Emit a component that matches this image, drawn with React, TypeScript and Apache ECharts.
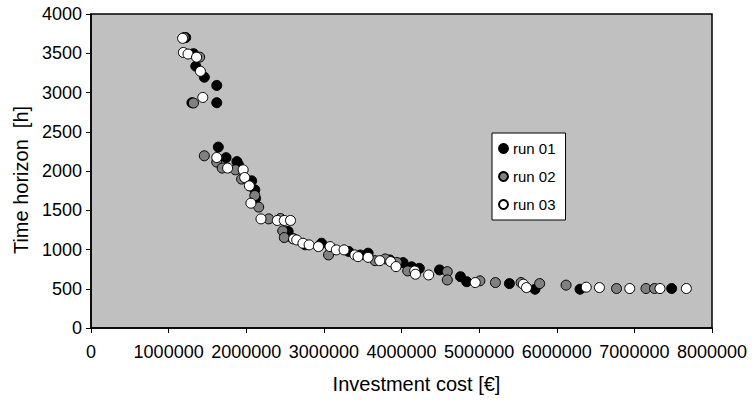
import React, { useEffect, useRef } from "react";
import * as echarts from "echarts";

const xTicks = [0, 1000000, 2000000, 3000000, 4000000, 5000000, 6000000, 7000000, 8000000];
const yTicks = [0, 500, 1000, 1500, 2000, 2500, 3000, 3500, 4000];

const seriesNames = ["run 01", "run 02", "run 03"];

const run01: [number, number][] = [
  [1220000, 3700], [1320000, 3495], [1350000, 3335], [1460000, 3195], [1620000, 3090],
  [1300000, 2870], [1620000, 2870], [1640000, 2305], [1740000, 2170], [1880000, 2120],
  [1900000, 2080], [2070000, 1875], [2110000, 1760], [2120000, 1650], [2540000, 1230],
  [2600000, 1140], [2760000, 1060], [2970000, 1080], [3320000, 975], [3470000, 930],
  [3570000, 953], [3850000, 867], [4020000, 833], [4130000, 780], [4230000, 760],
  [4490000, 740], [4760000, 654], [4840000, 590], [5390000, 566], [5720000, 494],
  [6300000, 494], [7480000, 503],
];

const run02: [number, number][] = [
  [1200000, 3700], [1400000, 3450], [1320000, 2866], [1460000, 2194], [1620000, 2113],
  [1690000, 2037], [1860000, 2015], [1940000, 1897], [2110000, 1687], [2160000, 1540],
  [2290000, 1390], [2440000, 1395], [2470000, 1237], [2490000, 1152], [3060000, 931],
  [3660000, 858], [3790000, 880], [3940000, 835], [4080000, 727], [4590000, 718],
  [4590000, 612], [5010000, 601], [5210000, 579], [5540000, 579], [5780000, 566],
  [6120000, 546], [6770000, 503], [7150000, 503], [7260000, 503],
];

const run03: [number, number][] = [
  [1180000, 3690], [1190000, 3510], [1250000, 3490], [1360000, 3450], [1410000, 3270],
  [1440000, 2937], [1620000, 2172], [1760000, 2037], [1960000, 2015], [1980000, 1917],
  [2040000, 1811], [2060000, 1590], [2190000, 1390], [2400000, 1370], [2490000, 1370],
  [2570000, 1370], [2610000, 1135], [2650000, 1122], [2730000, 1080], [2810000, 1059],
  [2930000, 1037], [3080000, 1037], [3160000, 995], [3260000, 995], [3400000, 931],
  [3440000, 909], [3570000, 900], [3720000, 858], [3860000, 846], [3930000, 782],
  [4170000, 727], [4180000, 685], [4350000, 676], [4950000, 579], [5570000, 558],
  [5610000, 515], [6380000, 520], [6550000, 515], [6940000, 503], [7330000, 503],
  [7670000, 503],
];

const fills = ["#000000", "#808080", "#ffffff"];
const FONT = "'Liberation Sans', Arial, sans-serif";

export default function App() {
  const ref = useRef<HTMLDivElement>(null);
  useEffect(() => {
    if (!ref.current) return;
    const chart = echarts.init(ref.current, undefined, { renderer: "svg" });
    const data = [run01, run02, run03];
    const plain = (v: number) => String(v);
    chart.setOption({
      animation: false,
      backgroundColor: "#ffffff",
      textStyle: { fontFamily: FONT, color: "#000" },
      grid: {
        left: 91,
        right: 43,
        top: 14,
        bottom: 72,
        show: true,
        backgroundColor: "#c0c0c0",
        borderColor: "#000",
        borderWidth: 1.5,
      },
      legend: {
        orient: "vertical",
        left: 492,
        top: 133,
        data: seriesNames.map((n) => ({ name: n, icon: "circle" })),
        backgroundColor: "#ffffff",
        borderColor: "#000",
        borderWidth: 1,
        borderRadius: 0,
        padding: [8, 10, 8, 6],
        itemWidth: 9,
        itemHeight: 9,
        itemGap: 13,
        textStyle: { fontSize: 15, color: "#000", fontFamily: FONT },
      },
      xAxis: {
        type: "value",
        min: xTicks[0],
        max: xTicks[xTicks.length - 1],
        interval: xTicks[1] - xTicks[0],
        name: "Investment cost [€]",
        nameLocation: "middle",
        nameGap: 46,
        nameTextStyle: { fontSize: 20, color: "#000", fontFamily: FONT, padding: [0, 0, 0, 30] },
        axisLine: { show: true, lineStyle: { color: "#000", width: 1.5 } },
        axisTick: { show: true, inside: false, length: 5, lineStyle: { color: "#000" } },
        axisLabel: { fontSize: 18, color: "#000", margin: 15, fontFamily: FONT, formatter: plain },
        splitLine: { show: false },
      },
      yAxis: {
        type: "value",
        min: yTicks[0],
        max: yTicks[yTicks.length - 1],
        interval: yTicks[1] - yTicks[0],
        name: "Time horizon  [h]",
        nameLocation: "middle",
        nameGap: 58,
        nameTextStyle: { fontSize: 20, color: "#000", fontFamily: FONT, padding: [0, 18, 0, 0] },
        axisLine: { show: true, lineStyle: { color: "#000", width: 1.5 } },
        axisTick: { show: true, inside: false, length: 5, lineStyle: { color: "#000" } },
        axisLabel: { fontSize: 18, color: "#000", margin: 9, fontFamily: FONT, formatter: plain },
        splitLine: { show: false },
      },
      series: seriesNames.map((name, i) => ({
        name,
        type: "scatter",
        symbol: "circle",
        symbolSize: 10,
        data: data[i],
        itemStyle: { color: fills[i], borderColor: "#000", borderWidth: 1, opacity: 1 },
        emphasis: { disabled: true },
      })),
    });
    return () => chart.dispose();
  }, []);
  return (
    <div
      ref={ref}
      style={{ position: "fixed", left: 0, top: 0, width: 755, height: 400 }}
    />
  );
}
